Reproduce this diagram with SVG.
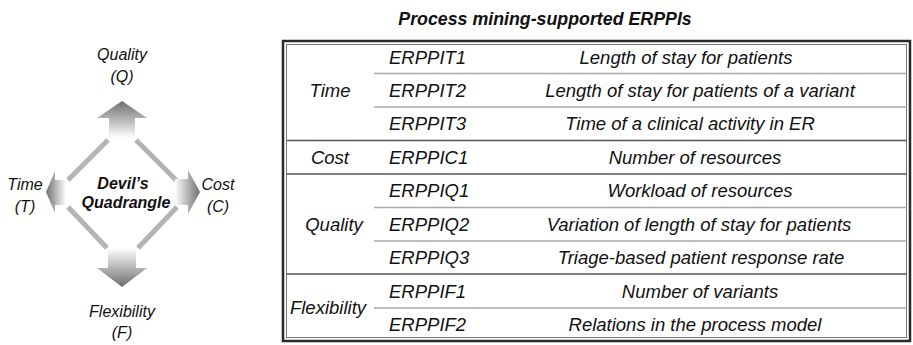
<svg xmlns="http://www.w3.org/2000/svg" width="913" height="345" viewBox="0 0 913 345">
<defs>
<linearGradient id="gUp" x1="0" y1="1" x2="0" y2="0"><stop offset="0" stop-color="#ffffff"/><stop offset="1" stop-color="#6e6e6e"/></linearGradient>
<linearGradient id="gDown" x1="0" y1="0" x2="0" y2="1"><stop offset="0" stop-color="#ffffff"/><stop offset="1" stop-color="#6e6e6e"/></linearGradient>
<linearGradient id="gLeft" x1="1" y1="0" x2="0" y2="0"><stop offset="0" stop-color="#ffffff"/><stop offset="1" stop-color="#6e6e6e"/></linearGradient>
<linearGradient id="gRight" x1="0" y1="0" x2="1" y2="0"><stop offset="0" stop-color="#ffffff"/><stop offset="1" stop-color="#6e6e6e"/></linearGradient>
<style>
text{font-family:"Liberation Sans",Arial,sans-serif;font-style:italic;fill:#111;}
.lbl{font-size:16px;text-anchor:middle;}
.b{font-weight:bold;}
.cell{font-size:18.5px;}
.c{text-anchor:middle;}
.edge{stroke:#b4b4b4;stroke-width:5;fill:none;}
.inner{stroke:#a8a8a8;stroke-width:1.5;}
.grp{stroke:#555;stroke-width:1.5;}
</style>
</defs>
<rect width="913" height="345" fill="#fff"/>

<g id="connectors">
<line class="edge" x1="108" y1="140" x2="68" y2="180"/>
<line class="edge" x1="136" y1="140" x2="176" y2="180"/>
<line class="edge" x1="68" y1="207" x2="107" y2="248"/>
<line class="edge" x1="177" y1="207" x2="138" y2="248"/>
</g>

<g id="arrow-quality">
<polygon points="122,101 147,118 135,118 135,138 109,138 109,118 97,118" fill="url(#gUp)"/>
<text class="lbl" x="122" y="60">Quality</text>
<text class="lbl" x="122" y="82">(Q)</text>
</g>
<g id="arrow-flexibility">
<polygon points="122,287 147,268 136,268 136,248 108,248 108,268 97,268" fill="url(#gDown)"/>
<text class="lbl" x="122" y="317">Flexibility</text>
<text class="lbl" x="122" y="338">(F)</text>
</g>
<g id="arrow-time">
<polygon points="46,192 55,171 55,180 66,180 66,205 55,205 55,213" fill="url(#gLeft)"/>
<text class="lbl" x="25" y="190">Time</text>
<text class="lbl" x="25" y="212">(T)</text>
</g>
<g id="arrow-cost">
<polygon points="200,192 188,170 188,179 175,179 175,205 188,205 188,214" fill="url(#gRight)"/>
<text class="lbl" x="218" y="190">Cost</text>
<text class="lbl" x="218" y="212">(C)</text>
</g>
<g id="center-label">
<text class="lbl b" x="123" y="189" font-size="16.5">Devil’s</text>
<text class="lbl b" x="126" y="208" font-size="16.5">Quadrangle</text>
</g>

<g id="title">
<text class="b c" x="545" y="25" font-size="17.8">Process mining-supported ERPPIs</text>
</g>

<g id="table">
<rect x="283" y="41" width="627" height="300" fill="none" stroke="#2a2a2a" stroke-width="2.5"/>
<rect x="286.5" y="44.5" width="620" height="293" fill="none" stroke="#777" stroke-width="1"/>
<line class="inner" x1="374" y1="73.5" x2="907" y2="73.5"/>
<line class="inner" x1="374" y1="107" x2="907" y2="107"/>
<line class="grp" x1="287" y1="140.5" x2="907" y2="140.5"/>
<line class="grp" x1="287" y1="174" x2="907" y2="174"/>
<line class="inner" x1="374" y1="207.5" x2="907" y2="207.5"/>
<line class="inner" x1="374" y1="241" x2="907" y2="241"/>
<line class="grp" x1="287" y1="274" x2="907" y2="274"/>
<line class="inner" x1="374" y1="308" x2="907" y2="308"/>

<text class="cell c" x="330" y="97">Time</text>
<text class="cell c" x="330" y="164">Cost</text>
<text class="cell c" x="334" y="231">Quality</text>
<text class="cell c" x="328" y="314">Flexibility</text>

<text class="cell" x="389" y="64">ERPPIT1</text>
<text class="cell" x="389" y="97">ERPPIT2</text>
<text class="cell" x="389" y="130">ERPPIT3</text>
<text class="cell" x="389" y="164">ERPPIC1</text>
<text class="cell" x="389" y="197">ERPPIQ1</text>
<text class="cell" x="389" y="231">ERPPIQ2</text>
<text class="cell" x="389" y="264">ERPPIQ3</text>
<text class="cell" x="389" y="298">ERPPIF1</text>
<text class="cell" x="389" y="331">ERPPIF2</text>

<text class="cell c" x="686" y="64">Length of stay for patients</text>
<text class="cell c" x="700" y="97">Length of stay for patients of a variant</text>
<text class="cell c" x="690" y="130">Time of a clinical activity in ER</text>
<text class="cell c" x="695" y="164">Number of resources</text>
<text class="cell c" x="700" y="197">Workload of resources</text>
<text class="cell c" x="699" y="231">Variation of length of stay for patients</text>
<text class="cell c" x="701" y="264">Triage-based patient response rate</text>
<text class="cell c" x="700" y="298">Number of variants</text>
<text class="cell c" x="695" y="331">Relations in the process model</text>
</g>
</svg>
